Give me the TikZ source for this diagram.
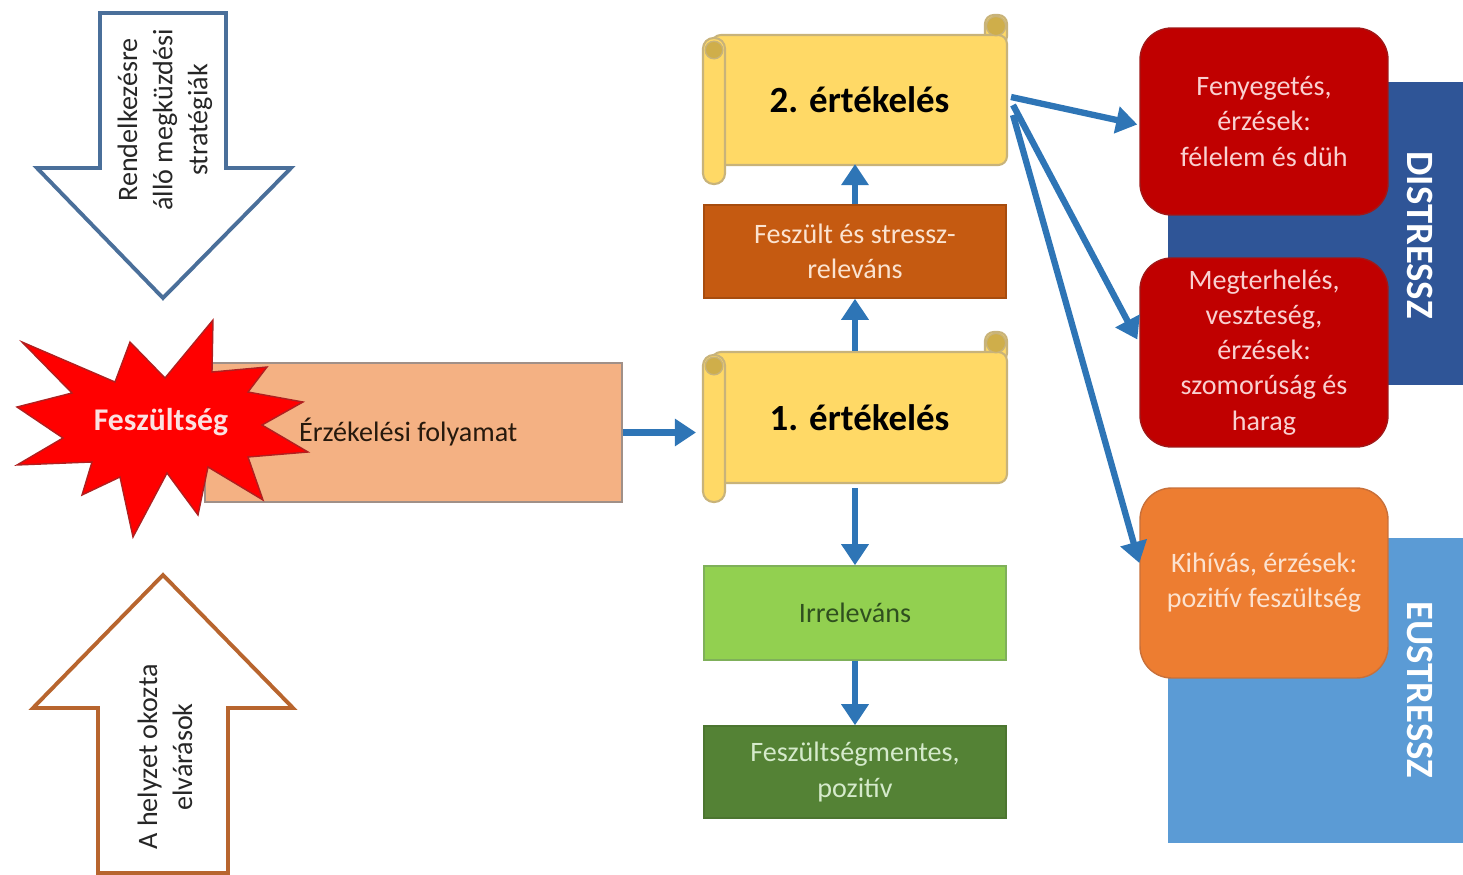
\documentclass[tikz,border=0pt]{standalone}
\usepackage{fontspec}
\setmainfont{Carlito}
\usetikzlibrary{arrows.meta,calc}
\definecolor{arrowblue}{HTML}{2E75B6}
\definecolor{downedge}{HTML}{4A6F9A}
\definecolor{upedge}{HTML}{B8652E}
\definecolor{senseFill}{HTML}{F4B183}
\definecolor{senseEdge}{HTML}{A09088}
\definecolor{starFill}{HTML}{FF0000}
\definecolor{starEdge}{HTML}{B02020}
\definecolor{starText}{HTML}{FBE0E0}
\definecolor{scrollFill}{HTML}{FFD966}
\definecolor{scrollEdge}{HTML}{C8B37A}
\definecolor{knobFill}{HTML}{CFAE4A}
\definecolor{stressFill}{HTML}{C55A11}
\definecolor{stressText}{HTML}{FBE3D0}
\definecolor{irrFill}{HTML}{92D050}
\definecolor{irrEdge}{HTML}{7FB05A}
\definecolor{irrText}{HTML}{2F4F1F}
\definecolor{mentFill}{HTML}{548235}
\definecolor{mentText}{HTML}{D5EACB}
\definecolor{distFill}{HTML}{2F5597}
\definecolor{euFill}{HTML}{5B9BD5}
\definecolor{redFill}{HTML}{C00000}
\definecolor{redEdge}{HTML}{A01818}
\definecolor{redText}{HTML}{F9D0D0}
\definecolor{oraFill}{HTML}{ED7D31}
\definecolor{oraEdge}{HTML}{C8703A}
\definecolor{oraText}{HTML}{FCE2CF}
\begin{document}
\begin{tikzpicture}[x=0.02cm,y=-0.02cm,
  txt/.style={font=\fontsize{16}{20}\selectfont, align=center},
  bigarrow/.style={draw=arrowblue, line width=3.6pt, -{Triangle[length=12pt,width=15pt]}},
  flatbox/.style={rectangle, minimum width=6.04cm, inner sep=2pt, txt},
  rbox/.style={rectangle, rounded corners=18pt, minimum width=4.96cm, line width=0.8pt, txt},
  scrollbody/.style={rectangle, rounded corners=5pt, fill=scrollFill, draw=scrollEdge, line width=1.2pt, minimum width=5.9cm, font=\fontsize{21}{25}\selectfont\bfseries},
  scrollpart/.style={fill=scrollFill, draw=scrollEdge, line width=1.2pt},
  knob/.style={fill=knobFill, draw=scrollEdge, line width=0.8pt},
  sidebox/.style={rectangle, inner sep=0pt},
  sidetext/.style={text=white, font=\fontsize{22}{26}\selectfont\bfseries, rotate=-90},
  arrowtext/.style={rotate=90, align=center, font=\fontsize{16}{20}\selectfont, text=black!85},
]
\useasboundingbox (0,0) rectangle (1463,875);

% big outlined arrows
\draw[draw=downedge, line width=2.2pt, fill=white, line join=miter]
  (100,13) -- (226,13) -- (226,168) -- (291,168) -- (163,298) -- (37,168) -- (100,168) -- cycle;
\node[arrowtext] (strat) at (165,120) {Rendelkezésre\\álló megküzdési\\stratégiák};
\draw[draw=upedge, line width=2.2pt, fill=white, line join=miter]
  (98,873) -- (228,873) -- (228,708) -- (293,708) -- (163,575) -- (33,708) -- (98,708) -- cycle;
\node[arrowtext] (elv) at (165,757) {A helyzet okozta\\elvárások};

% sensing process
\node[sidebox, fill=senseFill, draw=senseEdge, line width=1pt, minimum width=8.34cm, minimum height=2.78cm] (sense) at (413.5,432.5) {};
\node[txt, anchor=west, text=black!80!brown] (sensetext) at (293,432) {Érzékelési folyamat};

% star
\draw[fill=starFill, draw=starEdge, line width=0.8pt, line join=miter]
  (22,342) -- (115,382) -- (130,342) -- (165,378) -- (213,320) -- (212,372) -- (267,367) -- (248,392)
  -- (303,402) -- (262,425) -- (308,452) -- (248,457) -- (263,500) -- (208,467) -- (198,515) -- (167,473)
  -- (133,537) -- (120,477) -- (82,495) -- (92,462) -- (17,465) -- (63,438) -- (17,407) -- (72,393) -- cycle;
\node[font=\fontsize{18}{22}\selectfont\bfseries, text=starText] (fesz) at (161,422) {Feszültség};

% right side background boxes
\fill[distFill] (1168,82) rectangle (1463,385);
\node[sidetext] (dist) at (1420,235) {DISTRESSZ};
\fill[euFill] (1168,538) rectangle (1463,843);
\node[sidetext] (eu) at (1420,690) {EUSTRESSZ};

% right rounded boxes
\node[rbox, fill=redFill, draw=redEdge, text=redText, minimum height=3.74cm] (red1) at (1264,121.5) {Fenyegetés,\\érzések:\\félelem és düh};
\node[rbox, fill=redFill, draw=redEdge, text=redText, minimum height=3.78cm] (red2) at (1264,352.5) {Megterhelés,\\veszteség,\\érzések:\\szomorúság és\\harag};
\node[rbox, fill=oraFill, draw=oraEdge, text=oraText, minimum height=3.8cm] (ora) at (1264,583) {Kihívás, érzések:\\pozitív feszültség};

% scroll 2
\draw[scrollpart, rounded corners=5pt] (985,15) rectangle (1007,45);
\node[scrollbody, minimum height=2.6cm] (s2) at (859.5,100) {2. értékelés};
\draw[scrollpart, rounded corners=6pt] (703,38) rectangle (725,184);
\draw[knob] (714,50) circle[radius=5pt];
\draw[knob] (996,26) circle[radius=5.5pt];

% scroll 1
\draw[scrollpart, rounded corners=5pt] (985,332) rectangle (1007,362);
\node[scrollbody, minimum height=2.62cm] (s1) at (859.5,417.5) {1. értékelés};
\draw[scrollpart, rounded corners=6pt] (703,355) rectangle (725,502);
\draw[knob] (714,366) circle[radius=5pt];
\draw[knob] (996,343) circle[radius=5.5pt];

% middle flat boxes
\node[flatbox, fill=stressFill, draw=stressFill!85!black, line width=0.8pt, text=stressText, minimum height=1.86cm] (stress) at (855,251.5) {Feszült és stressz-\\releváns};
\node[flatbox, fill=irrFill, draw=irrEdge, line width=0.8pt, text=irrText, minimum height=1.88cm] (irr) at (855,613) {Irreleváns};
\node[flatbox, fill=mentFill, draw=mentFill!90!black, line width=0.8pt, text=mentText, minimum height=1.84cm] (ment) at (855,772) {Feszültségmentes,\\pozitív};

% connectors
\draw[bigarrow] (sense.east) -- ([xshift=-0.3cm]sense.east -| s1.west);
\draw[bigarrow] (stress.south |- s1.north) -- (stress.south);
\draw[bigarrow] (stress.north) -- ([yshift=0.04cm]stress.north |- s2.south);
\draw[bigarrow] ([yshift=-0.08cm]stress.south |- s1.south) -- (irr.north);
\draw[bigarrow] (irr.south) -- (ment.north);
\draw[bigarrow] ($(s2.east)+(3,-3)$) -- ($(red1.west)+(-2,3)$);
\draw[bigarrow] ($(s2.east)+(5,5)$) -- ($(red2.west)+(-2,-13)$);
\draw[bigarrow] ($(s2.east)+(5,15)$) -- ($(ora.west)+(0,-20)$);
\end{tikzpicture}
\end{document}
